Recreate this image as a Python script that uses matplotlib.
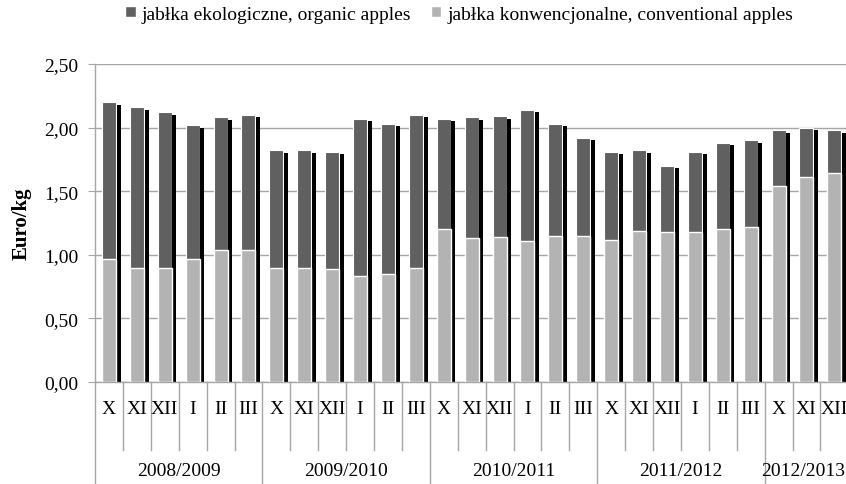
import numpy as np
import matplotlib.pyplot as plt
from matplotlib.patches import Patch
from matplotlib.ticker import FuncFormatter

plt.rcParams['font.family'] = ['Liberation Serif', 'DejaVu Serif']

# ==== Data ====
seasons = ['2008/2009', '2009/2010', '2010/2011', '2011/2012', '2012/2013']
months_per_season = [['X', 'XI', 'XII', 'I', 'II', 'III']] * 4 + [['X', 'XI', 'XII']]
months = [m for ms in months_per_season for m in ms]

organic = [2.20, 2.16, 2.12, 2.02, 2.08, 2.10,
           1.82, 1.82, 1.81, 2.07, 2.03, 2.10,
           2.07, 2.08, 2.09, 2.14, 2.03, 1.92,
           1.81, 1.82, 1.70, 1.81, 1.88, 1.90,
           1.98, 2.00, 1.98]
conventional = [0.97, 0.90, 0.90, 0.97, 1.04, 1.04,
                0.90, 0.90, 0.89, 0.83, 0.85, 0.90,
                1.20, 1.13, 1.14, 1.11, 1.15, 1.15,
                1.12, 1.19, 1.18, 1.18, 1.20, 1.22,
                1.54, 1.61, 1.64]

label_org = 'jabłka ekologiczne, organic apples'
label_conv = 'jabłka konwencjonalne, conventional apples'

# ==== Colours ====
c_dark = '#606060'
c_light = '#b3b3b3'
c_axis = '#a6a6a6'
fs = 14

# ==== Figure ====
W, H = 846, 485
fig = plt.figure(figsize=(W / 100, H / 100), dpi=100)
# axes run past the right edge (the chart is cropped there)
ax_l, ax_r, ax_t, ax_b = 95, 932, 65, 383
ax = fig.add_axes([ax_l / W, 1 - ax_b / H, (ax_r - ax_l) / W, (ax_b - ax_t) / H])

n_slots = 30
x = np.arange(len(months))
bw = 0.5

ax.bar(x, organic, width=bw, color=c_dark, edgecolor='white', linewidth=0.8, zorder=2)
ax.bar(x, conventional, width=bw, color=c_light, edgecolor='white', linewidth=1.0, zorder=3)
# black "3D" shadow on the right of every bar
ax.bar(x + bw / 2 + 0.025, np.array(organic) - 0.02, width=0.143, align='edge',
       color='black', linewidth=0, zorder=2)

ax.set_xlim(-0.5, n_slots - 0.5)
ax.set_ylim(0, 2.5)
ax.set_yticks(np.arange(0, 2.51, 0.5))
ax.yaxis.set_major_formatter(FuncFormatter(lambda v, p: f'{v:.2f}'.replace('.', ',')))
ax.grid(axis='y', color=c_axis, linewidth=1.0, zorder=0)
ax.set_axisbelow(True)

for s in ['top', 'right']:
    ax.spines[s].set_visible(False)
for s in ['left', 'bottom']:
    ax.spines[s].set_color(c_axis)
    ax.spines[s].set_linewidth(1.0)

ax.tick_params(axis='y', length=5, color=c_axis, labelsize=fs, pad=7)
ax.set_xticks([])
ax.set_ylabel('Euro/kg', fontsize=15, fontweight='bold', labelpad=9)

# ==== Two-level category axis ====
trans = ax.get_xaxis_transform()
h_ax = ax_b - ax_t
month_y = -(410 - ax_b) / h_ax
year_y = -(472 - ax_b) / h_ax
month_line = -(451 - ax_b) / h_ax
year_line = -(500 - ax_b) / h_ax

for i, m in enumerate(months):
    ax.text(i, month_y, m, transform=trans, ha='center', va='center', fontsize=fs)

start = 0
for s, ms in zip(seasons, months_per_season):
    ax.plot([start - 0.5, start - 0.5], [0, year_line], transform=trans,
            color=c_axis, linewidth=1.0, clip_on=False)
    for k in range(1, len(ms)):
        ax.plot([start + k - 0.5] * 2, [0, month_line], transform=trans,
                color=c_axis, linewidth=1.0, clip_on=False)
    cx = start + (len(ms) - 1) / 2
    if len(ms) < 6:
        cx -= 0.12  # keep the short last season label inside the picture
    ax.text(cx, year_y, s, transform=trans, ha='center', va='center', fontsize=fs)
    start += len(ms)
ax.plot([start - 0.5] * 2, [0, month_line], transform=trans,
        color=c_axis, linewidth=1.0, clip_on=False)

# ==== Legend ====
handles = [Patch(facecolor=c_dark, edgecolor='white', label=label_org),
           Patch(facecolor=c_light, edgecolor='white', label=label_conv)]
fig.legend(handles=handles, loc='center', bbox_to_anchor=(459 / W, 1 - 15 / H),
           ncol=2, frameon=False, fontsize=fs, handlelength=0.55, handleheight=0.55,
           handletextpad=0.3, columnspacing=1.0)

fig.savefig('out.png', dpi=100)
